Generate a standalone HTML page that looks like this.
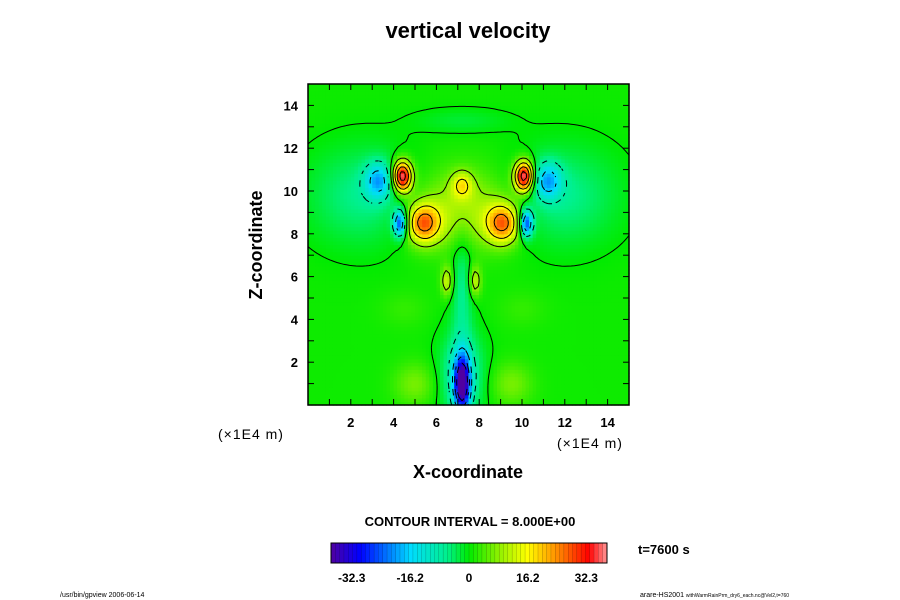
<!DOCTYPE html>
<html><head><meta charset="utf-8"><style>
body{margin:0;background:#fff;width:900px;height:600px;overflow:hidden;font-family:"Liberation Sans",sans-serif}
svg{position:absolute;left:0;top:0}
</style></head><body>
<svg id="s" width="900" height="600" xmlns="http://www.w3.org/2000/svg">
<text x="468" y="38" text-anchor="middle" font-size="22" font-weight="bold" font-family="Liberation Sans, sans-serif">vertical velocity</text>
<g id="plot"></g>
<g id="cb"></g>
<text x="468" y="478" text-anchor="middle" font-size="18" font-weight="bold">X-coordinate</text>
<text transform="translate(262,245) rotate(-90)" text-anchor="middle" font-size="18" font-weight="bold">Z-coordinate</text>
<text x="218" y="439" font-size="14" letter-spacing="1">(×1E4 m)</text>
<text x="557" y="448" font-size="14" letter-spacing="1">(×1E4 m)</text>
<text x="470" y="526" text-anchor="middle" font-size="13" font-weight="bold">CONTOUR INTERVAL = 8.000E+00</text>
<text x="638" y="554" font-size="13" font-weight="bold">t=7600 s</text>
<text x="60" y="597" font-size="7">/usr/bin/gpview 2006-06-14</text>
<text x="640" y="597" font-size="7">arare-HS2001 <tspan font-size="5">withWarmRainPrm_dry6_each.nc@Vel2,t=760</tspan></text>
</svg>
<script>
// data: blob model of the field [x(1E4 m), z(1E4 m), amplitude, sx, sz]
const blobX=[4.4,10.1,3.3,11.2,2.6,11.9,4.3,10.2,5.4,9.1,7.2,7.2,6.5,7.8,7.2,7.2,5.0,9.5,7.2,7.2,4.5,10.0];
const blobZ=[10.7,10.7,10.5,10.5,9.8,9.8,8.5,8.5,8.5,8.5,10.3,9.2,5.8,5.8,1.0,1.4,1.0,1.0,5.5,13.3,4.5,4.5];
const blobA=[38,38,-16,-16,-7,-7,-26,-26,24,24,12,10,12,12,-36,-12,6,6,-7,-3,2,2];
const blobSX=[0.32,0.32,0.45,0.45,1.8,1.8,0.22,0.22,0.55,0.55,0.35,1.7,0.2,0.2,0.25,0.7,0.7,0.7,0.35,1.5,0.8,0.8];
const blobSZ=[0.5,0.5,0.6,0.6,1.6,1.6,0.45,0.45,0.65,0.65,0.45,1.3,0.5,0.5,0.9,1.4,0.7,0.7,2.0,0.4,0.6,0.6];
const xTicks=[2,4,6,8,10,12,14];
const zTicks=[2,4,6,8,10,12,14];
const cbTicks=[-32.3,-16.2,0,16.2,32.3];
const levels=[-32,-24,-16,-8,0,8,16,24,32];

const NS="http://www.w3.org/2000/svg";
const X0=308,X1=629,Y0=84,Y1=405;
const sx=v=>X0+(v/15)*(X1-X0), sy=v=>Y1-(v/15)*(Y1-Y0);
const VMIN=-38,VMAX=38;
const stops=[[-38,[80,0,160]],[-30,[0,0,255]],[-16,[0,220,255]],[-6,[0,240,140]],[0,[0,235,0]],[8,[140,240,0]],[16,[255,255,0]],[25,[255,130,0]],[33,[255,0,0]],[38,[255,150,150]]];
function col(v){v=Math.max(-38,Math.min(38,v));for(let i=0;i<stops.length-1;i++){const a=stops[i],b=stops[i+1];if(v<=b[0]){const t=(v-a[0])/(b[0]-a[0]);return 'rgb('+a[1].map((c,k)=>Math.round(c+(b[1][k]-c)*t)).join(',')+')';}}return 'rgb(255,150,150)';}
function f(x,z){let s=0.8;for(let i=0;i<blobX.length;i++){const dx=(x-blobX[i])/blobSX[i],dz=(z-blobZ[i])/blobSZ[i];s+=blobA[i]*Math.exp(-0.5*(dx*dx+dz*dz));}return s;}
function mk(tag,attrs,parent){const e=document.createElementNS(NS,tag);for(const k in attrs)e.setAttribute(k,attrs[k]);parent.appendChild(e);return e;}
const plot=document.getElementById('plot');
const hm=mk('g',{},plot);


const N=90,d=15/N;
for(let i=0;i<N;i++)for(let j=0;j<N;j++){
  const x=(i+0.5)*d,z=(j+0.5)*d;
  mk('rect',{x:sx(i*d),y:sy((j+1)*d),width:(X1-X0)/N+0.6,height:(Y1-Y0)/N+0.6,fill:col(f(x,z))},hm);
}
const M=100,g=15/M,grid=[];
for(let i=0;i<=M;i++){grid[i]=[];for(let j=0;j<=M;j++)grid[i][j]=f(i*g,j*g);}
const cg=mk('g',{fill:'none',stroke:'#000','stroke-width':1},plot);


levels.forEach(L=>{
  let p='';
  for(let i=0;i<M;i++)for(let j=0;j<M;j++){
    if(L<0 && (Math.floor((i+j)/2)%2)===1) continue;
    const c=[[i,j],[i+1,j],[i+1,j+1],[i,j+1]],pts=[];
    for(let k=0;k<4;k++){const a=c[k],b=c[(k+1)%4];const va=grid[a[0]][a[1]]-L,vb=grid[b[0]][b[1]]-L;
      if((va<0)!==(vb<0)){const t=va/(va-vb);pts.push([sx((a[0]+(b[0]-a[0])*t)*g),sy((a[1]+(b[1]-a[1])*t)*g)]);}}
    for(let k=0;k+1<pts.length;k+=2)p+='M'+pts[k][0].toFixed(1)+' '+pts[k][1].toFixed(1)+'L'+pts[k+1][0].toFixed(1)+' '+pts[k+1][1].toFixed(1);
  }
  const e=mk('path',{d:p},cg);
  
  
});
const fr=mk('rect',{x:X0,y:Y0,width:X1-X0,height:Y1-Y0,fill:'none',stroke:'#000','stroke-width':1.5},plot);


const ax=mk('g',{stroke:'#000','stroke-width':1},plot);
for(let v=1;v<15;v++){
  mk('line',{x1:sx(v),y1:Y1,x2:sx(v),y2:Y1-6},ax);mk('line',{x1:sx(v),y1:Y0,x2:sx(v),y2:Y0+6},ax);
  mk('line',{x1:X0,y1:sy(v),x2:X0+6,y2:sy(v)},ax);mk('line',{x1:X1,y1:sy(v),x2:X1-6,y2:sy(v)},ax);
}
const svg=document.getElementById('s');
xTicks.forEach(v=>{const t=mk('text',{x:sx(v),y:427,'text-anchor':'middle','font-size':13,'font-weight':'bold'},svg);t.textContent=v;

});
zTicks.forEach(v=>{const t=mk('text',{x:298,y:sy(v)+5,'text-anchor':'end','font-size':13,'font-weight':'bold'},svg);t.textContent=v;

});
const cb=document.getElementById('cb');
const CX0=331,CX1=607,CY0=543,CY1=563,NB=64;
const cbx=v=>CX0+(v-VMIN)/(VMAX-VMIN)*(CX1-CX0);
for(let k=0;k<NB;k++){const v=VMIN+(k+0.5)*(VMAX-VMIN)/NB;
  const r=mk('rect',{x:CX0+k*(CX1-CX0)/NB,y:CY0,width:(CX1-CX0)/NB+0.3,height:CY1-CY0,fill:col(v),stroke:'rgba(0,0,0,0.35)','stroke-width':0.4},cb);
  
  }
mk('rect',{x:CX0,y:CY0,width:CX1-CX0,height:CY1-CY0,fill:'none',stroke:'#000','stroke-width':1},cb);
cbTicks.forEach(v=>{const t=mk('text',{x:cbx(v),y:582,'text-anchor':'middle','font-size':12,'font-weight':'bold'},cb);t.textContent=v;

});
</script>
</body></html>
